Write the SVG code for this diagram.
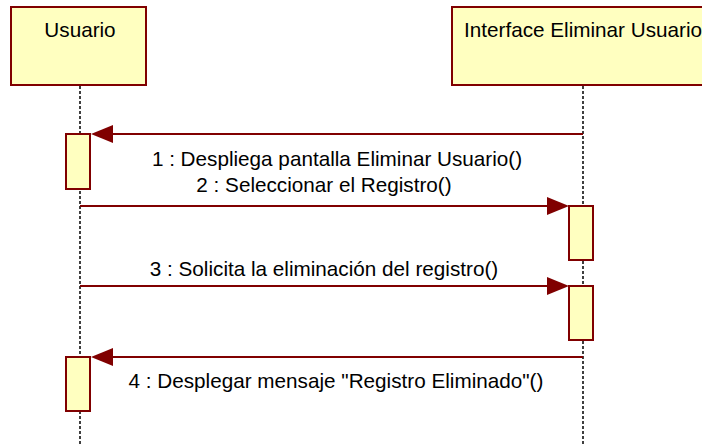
<svg xmlns="http://www.w3.org/2000/svg" width="702" height="444" viewBox="0 0 702 444">
<style>
.obj{fill:#FFFFC0;stroke:#800000;stroke-width:2}
.act{fill:#FFFFC0;stroke:#800000;stroke-width:2}
.life{stroke:#000;stroke-width:1.5;stroke-dasharray:3,2;fill:none}
.msg{stroke:#800000;stroke-width:2;fill:none}
.head{fill:#800000}
text{font-family:"Liberation Sans",Arial,sans-serif;font-size:20.7px;fill:#000;text-anchor:middle}
</style>
<rect width="702" height="444" fill="#fff"/>
<g id="lifelines">
<line class="life" x1="80" y1="86" x2="80" y2="444"/>
<line class="life" x1="583" y1="86" x2="583" y2="444"/>
</g>
<g id="usuario">
<rect class="obj" x="11" y="7" width="135" height="78"/>
<text x="80" y="37">Usuario</text>
</g>
<g id="interface">
<rect class="obj" x="452" y="7" width="262" height="78"/>
<text x="583" y="37">Interface Eliminar Usuario</text>
</g>
<g id="activations">
<rect class="act" x="66" y="134" width="24" height="55"/>
<rect class="act" x="569" y="206" width="24" height="54"/>
<rect class="act" x="569" y="286" width="24" height="54"/>
<rect class="act" x="66" y="357" width="24" height="54"/>
</g>
<g id="connectors">
<line class="msg" x1="583" y1="134" x2="110" y2="134"/>
<polygon class="head" points="91,134 113,125 113,143"/>
<text x="337" y="166">1 : Despliega pantalla Eliminar Usuario()</text>
<line class="msg" x1="80" y1="206" x2="550" y2="206"/>
<polygon class="head" points="569,206 547,197 547,215"/>
<text x="324" y="192">2 : Seleccionar el Registro()</text>
<line class="msg" x1="80" y1="286" x2="550" y2="286"/>
<polygon class="head" points="569,286 547,277 547,295"/>
<text x="324" y="276">3 : Solicita la eliminación del registro()</text>
<line class="msg" x1="583" y1="357" x2="110" y2="357"/>
<polygon class="head" points="91,357 113,348 113,366"/>
<text x="336" y="388">4 : Desplegar mensaje "Registro Eliminado"()</text>
</g>
</svg>
